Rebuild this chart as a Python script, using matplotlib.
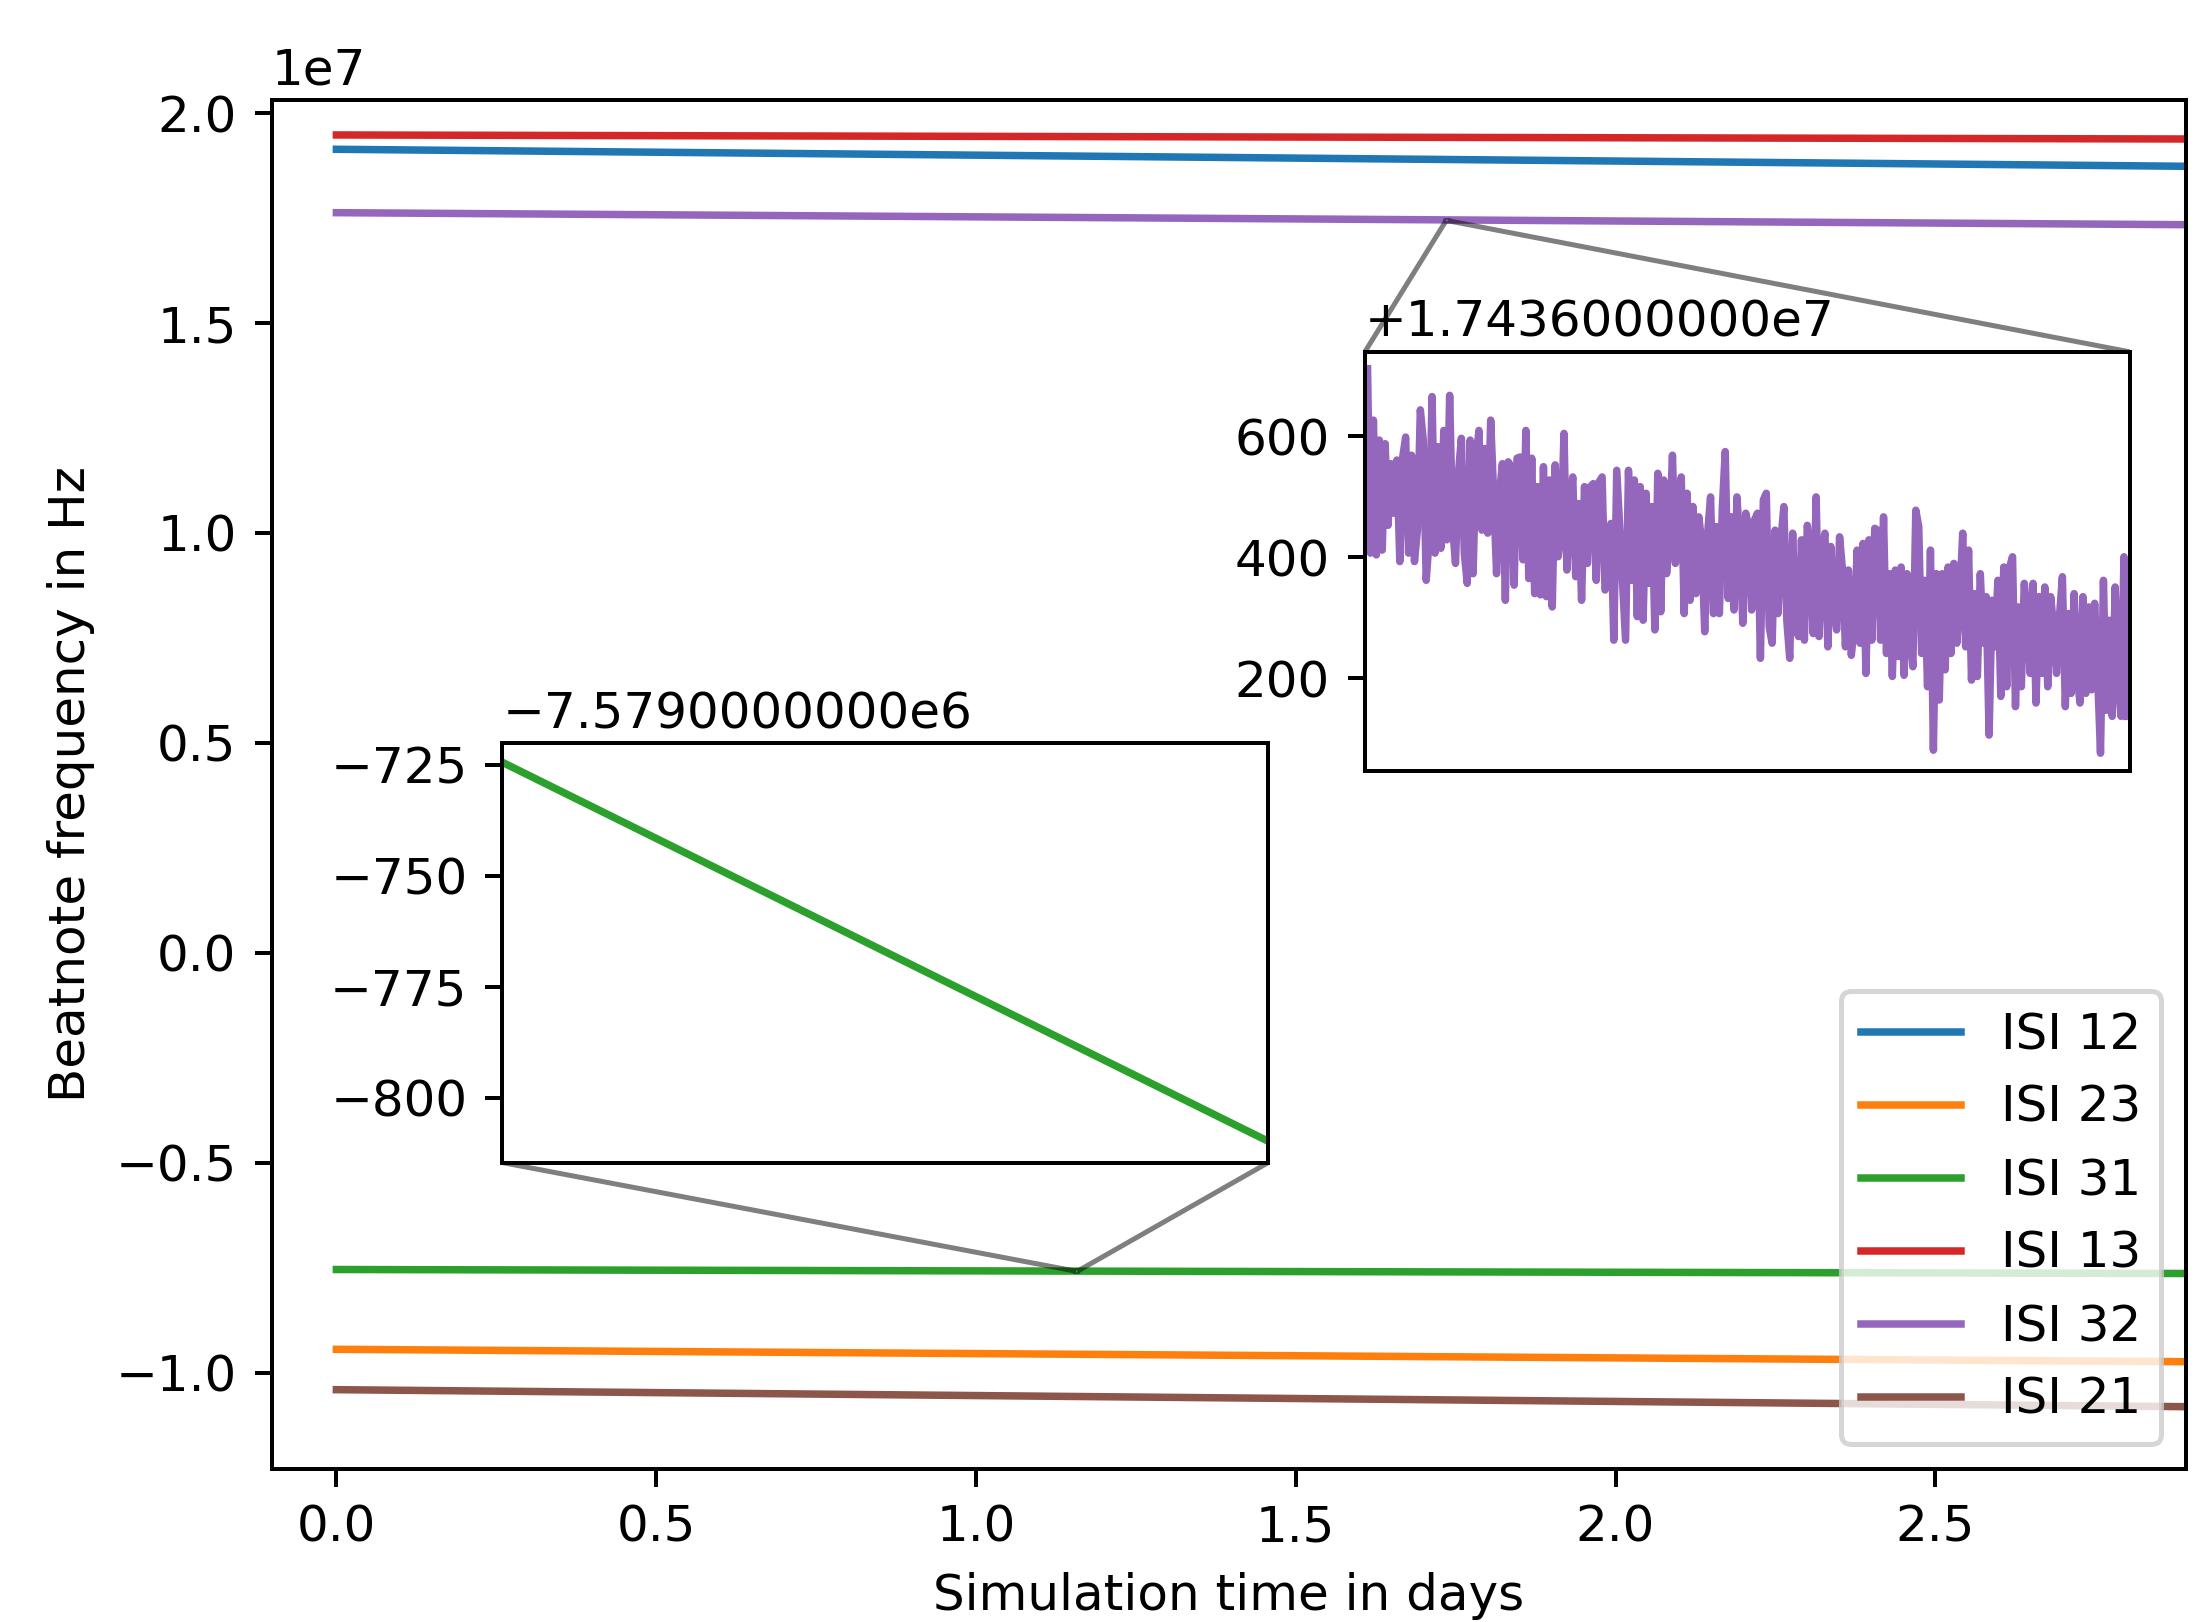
import numpy as np
import matplotlib
matplotlib.use("Agg")
import matplotlib.pyplot as plt
from matplotlib.ticker import ScalarFormatter

# ---------------- data ----------------
labels = ["ISI 12", "ISI 23", "ISI 31", "ISI 13", "ISI 32", "ISI 21"]
colors = ["C0", "C1", "C2", "C3", "C4", "C5"]

# main time axis (days): start and end of the plotted series
t_main = [0.0, 2.892]
isi12 = [1.9138e7, 1.8733e7]
isi23 = [-0.9440e7, -0.9736e7]
isi31 = [-0.7540e7, -0.7635e7]
isi13 = [1.9479e7, 1.9383e7]
isi32 = [1.7628e7, 1.7342e7]
isi21 = [-1.0402e7, -1.0807e7]
series = [isi12, isi23, isi31, isi13, isi32, isi21]

# zoom on ISI 31 (green)
zoom31_t = [1.1562, 1.1588]
zoom31_v = [-7579724.5, -7579809.8]
zoom31_ylim = (-7579814.6, -7579720.2)

# zoom on ISI 32 (purple): offsets (Hz) above 17436000 Hz
zoom32_base = 17436000
zoom32_t_range = (1.73501, 1.73789)
zoom32_offset = [
    712, 407, 627, 404, 594, 412, 588, 453, 555, 473, 561, 393, 566, 599, 407, 569,
    393, 445, 644, 594, 362, 429, 666, 407, 583, 415, 610, 429, 668, 451, 390, 539,
    597, 407, 357, 594, 373, 564, 610, 445, 580, 440, 627, 506, 373, 506, 555, 329,
    558, 550, 354, 564, 566, 396, 610, 365, 564, 340, 517, 338, 550, 335, 528, 318,
    553, 401, 440, 605, 379, 484, 533, 368, 489, 329, 517, 390, 517, 522, 362, 525,
    533, 346, 362, 456, 263, 544, 451, 357,
    263, 544, 362, 528, 302, 517, 296, 506, 357, 484, 280, 539, 310, 528, 373, 445,
    569, 390, 506, 533, 307, 506, 329, 484, 340, 467, 423, 277, 440, 500, 307, 451,
    307, 481, 575, 332, 467, 313, 500, 418, 291, 473, 451, 313, 462, 473, 233, 495,
    506, 285, 258, 445, 307, 429, 484, 296, 233, 440, 285, 269, 429, 263, 453, 407,
    274, 500, 269, 407, 440, 252, 418, 318, 280, 434, 379, 252, 379, 238, 285, 412,
    258, 423, 208, 429, 263, 448,
    445, 263, 467, 241, 373, 203, 379, 236, 384, 205, 373, 280, 219, 478, 451, 241,
    362, 186, 412, 81, 373, 164, 373, 214, 384, 241, 390, 258, 335, 440, 252, 412,
    197, 340, 203, 373, 258, 335, 106, 329, 252, 362, 170, 384, 186, 384, 401, 153,
    318, 186, 357, 307, 208, 357, 159, 335, 208, 351, 186, 335, 285, 208, 302, 368,
    153, 307, 175, 340, 208, 159, 335, 175, 318, 181, 324, 208, 76, 362, 147, 296,
    137, 351, 203, 137, 401, 137,
]
zoom32_ylim = (17436047, 17436740)

xlim_main = (-0.1013, 2.892)
ylim_main = (-1.2291e7, 2.0314e7)


class LongOffsetFormatter(ScalarFormatter):
    """ScalarFormatter whose offset text is written as e.g. +1.7436000000e7."""

    def get_offset(self):
        if len(self.locs) == 0 or self.offset == 0:
            return super().get_offset()
        mant, exp = f"{self.offset:.10e}".split("e")
        s = f"{mant}e{int(exp)}"
        if self.offset > 0:
            s = "+" + s
        return s.replace("-", "\u2212")


# ---------------- figure ----------------
W, H, DPI = 2207, 1622, 360
fig = plt.figure(figsize=(W / DPI, H / DPI), dpi=DPI)
ax = fig.add_axes([271.6 / W, (H - 1469.0) / H, 1914.4 / W, 1369.1 / H])

for vals, lab, col in zip(series, labels, colors):
    ax.plot(t_main, vals, color=col, label=lab)

ax.set_xlim(*xlim_main)
ax.set_ylim(*ylim_main)
ax.set_xlabel("Simulation time in days")
ax.set_ylabel("Beatnote frequency in Hz")
ax.legend(loc="lower right")

# inset for ISI 31
axg = ax.inset_axes([0.1206, 0.2238, 0.4000, 0.3063])
axg.plot(zoom31_t, zoom31_v, color="C2")
axg.set_xlim(zoom31_t[0], zoom31_t[1])
axg.set_ylim(*zoom31_ylim)
axg.set_xticks([])
axg.yaxis.set_major_formatter(LongOffsetFormatter())
ax.indicate_inset_zoom(axg, edgecolor="black")

# inset for ISI 32
v32 = np.array(zoom32_offset, dtype=float) + zoom32_base
t32 = np.linspace(zoom32_t_range[0], zoom32_t_range[1], len(v32))
axp = ax.inset_axes([0.5711, 0.5100, 0.3994, 0.3060])
axp.plot(t32, v32, color="C4")
axp.set_xlim(1.73500, 1.73790)
axp.set_ylim(*zoom32_ylim)
axp.set_xticks([])
axp.yaxis.set_major_formatter(LongOffsetFormatter())
ax.indicate_inset_zoom(axp, edgecolor="black")

fig.savefig("out.png", dpi=DPI)
